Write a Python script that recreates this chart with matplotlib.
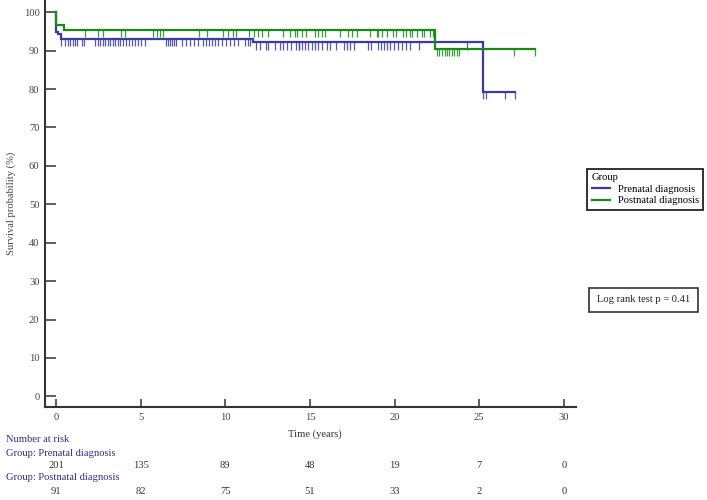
import numpy as np
import matplotlib
matplotlib.use("Agg")
import matplotlib.pyplot as plt
from matplotlib.lines import Line2D
import matplotlib.transforms as mtransforms

# ---- data ----
groups = ["Prenatal diagnosis", "Postnatal diagnosis"]

prenatal_time = [0.0, 0.0, 0.14, 0.28, 11.65, 25.2, 27.1]
prenatal_surv = [100.0, 94.8, 94.3, 93.1, 92.2, 79.2, 79.2]

postnatal_time = [0.0, 0.0, 0.49, 22.4, 28.3]
postnatal_surv = [100.0, 96.8, 95.5, 90.4, 90.4]

prenatal_censor = [0.3, 0.53, 0.69, 0.83, 1.0, 1.12, 1.24, 1.53, 1.65,
                   2.3, 2.48, 2.6, 2.78, 2.9, 3.07, 3.19, 3.37, 3.49, 3.66,
                   3.78, 3.96, 4.13, 4.31, 4.49, 4.67, 4.84, 5.02, 5.26,
                   6.5, 6.61, 6.73, 6.85, 6.97, 7.09, 7.44, 7.68, 7.91, 8.15,
                   8.39, 8.68, 8.86, 9.04, 9.21, 9.39, 9.57, 9.8, 10.04,
                   10.28, 10.51, 10.75, 11.16, 11.34, 11.46, 11.81, 12.05,
                   12.4, 12.52, 12.93, 13.23, 13.41, 13.64, 13.88, 14.18,
                   14.35, 14.35, 14.53, 14.71, 14.88, 15.12, 15.3, 15.47,
                   15.71, 16.0, 16.18, 16.54, 17.01, 17.19, 17.37, 17.6,
                   18.43, 18.6, 19.02, 19.2, 19.38, 19.55, 19.73, 19.97,
                   20.2, 20.44, 20.68, 20.91, 21.44, 24.28, 25.22, 25.4,
                   26.52, 27.1]

postnatal_censor = [1.71, 2.46, 2.76, 3.82, 4.08, 5.71, 5.95, 6.14, 6.34,
                    8.46, 8.9, 9.84, 10.18, 10.47, 10.63, 11.42, 11.69,
                    11.95, 12.15, 12.54, 13.43, 13.82, 14.12, 14.22, 14.53,
                    14.78, 15.3, 15.49, 15.69, 15.89, 16.77, 17.27, 17.46,
                    17.8, 18.55, 18.94, 19.04, 19.24, 19.57, 19.92, 20.08,
                    20.51, 20.67, 20.91, 21.01, 21.34, 21.6, 21.74, 22.09,
                    22.28, 22.48, 22.64, 22.8, 22.95, 23.11, 23.23, 23.37,
                    23.5, 23.66, 23.82, 27.05, 28.3]

risk_times = [0, 5, 10, 15, 20, 25, 30]
prenatal_risk = [201, 135, 89, 48, 19, 7, 0]
postnatal_risk = [91, 82, 75, 51, 33, 2, 0]

x_ticks = [0, 5, 10, 15, 20, 25, 30]
y_ticks = [0, 10, 20, 30, 40, 50, 60, 70, 80, 90, 100]

# ---- style ----
W, H = 707, 500
fig = plt.figure(figsize=(W / 100, H / 100), dpi=100)
plt.rcParams['font.family'] = ['Liberation Serif', 'DejaVu Serif']
FS = 7.6
BLUE = "#3b3ba6"
GREEN = "#178a17"
NAVY = "#2e2e86"
AX = "#333333"

ax = fig.add_axes([45 / W, 1 - 407.3 / H, (575.7 - 45) / W, 407.3 / H])
ax.set_xlim(-0.65, 30.7)
ax.set_ylim(-2.86, 103.2)

def surv_at(times, surv, t):
    idx = np.searchsorted(np.asarray(times), t, side="right") - 1
    return np.asarray(surv)[idx]

for times, surv, cens, col in [(prenatal_time, prenatal_surv, prenatal_censor, BLUE),
                               (postnatal_time, postnatal_surv, postnatal_censor, GREEN)]:
    ax.step(times, surv, where="post", color=col, lw=1.6, solid_joinstyle="miter")
    cv = surv_at(times, surv, np.asarray(cens))
    ax.vlines(cens, cv - 1.9, cv, color=col, lw=0.9, alpha=0.85)

for s in ["top", "right"]:
    ax.spines[s].set_visible(False)
for s in ["left", "bottom"]:
    ax.spines[s].set_color(AX)
    ax.spines[s].set_linewidth(1.5)

ax.set_xticks(x_ticks)
ax.set_yticks(y_ticks)
ax.tick_params(axis="y", direction="in", length=8, width=1.1, color=AX,
               labelsize=FS, labelcolor="#444444", pad=4)
ax.tick_params(axis="x", direction="in", length=6, width=1.1, color=AX,
               labelsize=FS, labelcolor="#444444", pad=4)

fig.text(11 / W, 1 - 203 / H, "Survival probability (%)", rotation=90,
         ha="center", va="center", fontsize=FS, color="#444444")
fig.text(315 / W, 1 - 434 / H, "Time (years)", ha="center", va="center",
         fontsize=FS, color="#333333")

# legend
handles = [Line2D([], [], color=BLUE, lw=1.6), Line2D([], [], color=GREEN, lw=1.6)]
leg = fig.legend(handles, groups, title="Group", loc="upper left",
                 bbox_to_anchor=(587 / W, 1 - 168.5 / H), fontsize=FS,
                 title_fontsize=FS, alignment="left", fancybox=False,
                 edgecolor="#222222", framealpha=1, borderpad=0.45,
                 handlelength=1.7, handletextpad=0.75, labelspacing=0.2,
                 borderaxespad=0)
leg.get_frame().set_linewidth(1.3)

# log rank box
fig.text(643.5 / W, 1 - 300 / H, "Log rank test p = 0.41", ha="center", va="center",
         fontsize=FS, color="#222222",
         bbox=dict(boxstyle="square,pad=0.7", fc="white", ec="#222222", lw=1.1))

# number at risk table
trans = mtransforms.blended_transform_factory(ax.transData, fig.transFigure)
fig.text(6 / W, 1 - 440 / H, "Number at risk", ha="left", va="center", fontsize=FS, color=NAVY)
fig.text(6 / W, 1 - 453 / H, "Group: " + groups[0], ha="left", va="center", fontsize=FS, color=NAVY)
fig.text(6 / W, 1 - 478 / H, "Group: " + groups[1], ha="left", va="center", fontsize=FS, color=NAVY)
for t, n in zip(risk_times, prenatal_risk):
    ax.text(t, 1 - 466 / H, str(n), transform=trans, ha="center", va="center",
            fontsize=FS, color="#333333", clip_on=False)
for t, n in zip(risk_times, postnatal_risk):
    ax.text(t, 1 - 491 / H, str(n), transform=trans, ha="center", va="center",
            fontsize=FS, color="#333333", clip_on=False)

fig.savefig("out.png", dpi=100)
